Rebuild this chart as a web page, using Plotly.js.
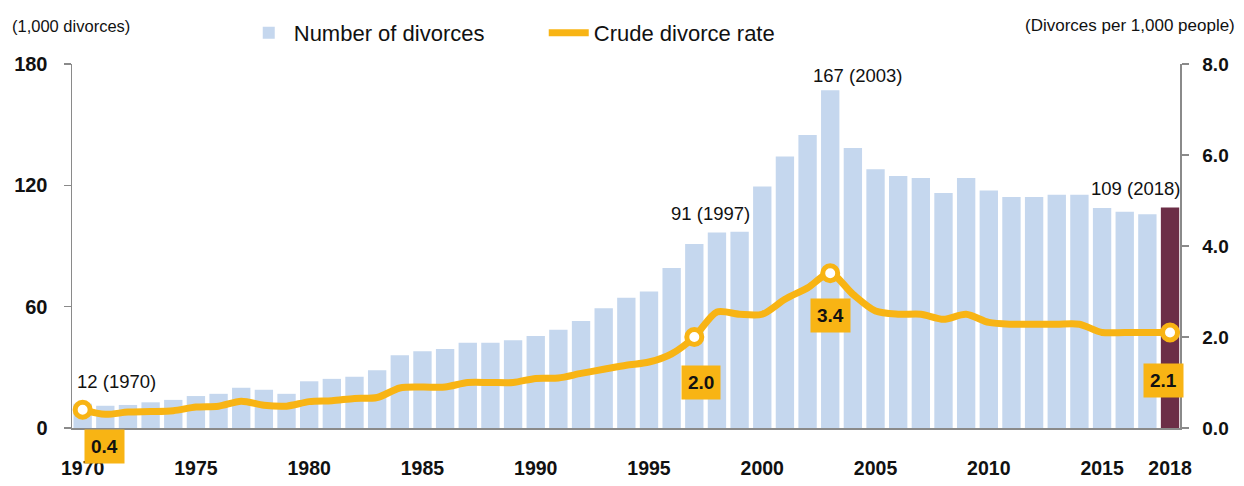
<!DOCTYPE html>
<html>
<head>
<meta charset="utf-8">
<script src="https://cdn.plot.ly/plotly-3.0.1.min.js"></script>
<style>
html,body{margin:0;padding:0;background:#fff;}
#chart{width:1244px;height:486px;}
</style>
</head>
<body>
<div id="chart"></div>
<script>
// Years (categories)
const years = [1970,1971,1972,1973,1974,1975,1976,1977,1978,1979,
               1980,1981,1982,1983,1984,1985,1986,1987,1988,1989,
               1990,1991,1992,1993,1994,1995,1996,1997,1998,1999,
               2000,2001,2002,2003,2004,2005,2006,2007,2008,2009,
               2010,2011,2012,2013,2014,2015,2016,2017,2018];
// Number of divorces (1,000)
const divorces = [12,11,11.4,12.7,13.9,15.8,16.9,19.9,18.9,16.9,
                  23.1,24.3,25.3,28.5,36,38,39.1,42.1,42.1,43.4,
                  45.5,48.6,52.9,59.2,64.4,67.5,79.1,91,96.7,97,
                  119.4,134.3,144.9,167,138.5,128,124.6,123.6,116.2,123.6,
                  117.5,114.2,114.2,115.3,115.3,108.8,106.9,105.7,109];
// Crude divorce rate (per 1,000 people)
const rate = [0.4,0.3,0.35,0.36,0.38,0.46,0.48,0.59,0.5,0.48,
              0.58,0.6,0.65,0.67,0.88,0.9,0.9,1.0,1.0,1.0,
              1.09,1.1,1.2,1.29,1.38,1.45,1.63,2.0,2.55,2.5,
              2.5,2.83,3.08,3.4,2.94,2.57,2.5,2.5,2.39,2.5,
              2.32,2.28,2.28,2.28,2.28,2.1,2.1,2.1,2.1];
const xTickYears = [1970,1975,1980,1985,1990,1995,2000,2005,2010,2015,2018];
const leftTicks = [0,60,120,180];
const rightTicks = [0,2,4,6,8];
const highlightYears = [1970,1997,2003,2018];

const BAR = '#C5D7EE', BAR_LAST = '#6C2E47', ORANGE = '#F8B414', AXIS = '#8a8a8a';
const FONT = '"Liberation Sans", Arial, sans-serif';

const lastYear = years[years.length-1];
const barColors = years.map(y => y === lastYear ? BAR_LAST : BAR);
const hiIdx = highlightYears.map(y => years.indexOf(y));

const traces = [
  {type:'bar', name:'Number of divorces', x:years, y:divorces,
   marker:{color:barColors}, hoverinfo:'x+y'},
  {type:'scatter', mode:'lines', name:'Crude divorce rate', x:years, y:rate, yaxis:'y2',
   line:{color:ORANGE, width:7, shape:'spline', smoothing:0.8}},
  {type:'scatter', mode:'markers', showlegend:false, x:hiIdx.map(i=>years[i]), y:hiIdx.map(i=>rate[i]),
   yaxis:'y2', marker:{size:15, color:'#ffffff', line:{color:ORANGE, width:5}}, hoverinfo:'skip'}
];

// pixel offsets for bar labels and rate boxes
const barLabelShift = {1970:[-8,28,'left'],1997:[16,30,'center'],2003:[27,15,'center'],2018:[-35,19,'center']};
const rateBoxShift = {1970:[22,-37],1997:[7,-45],2003:[0,-42],2018:[-7,-48]};

const annotations = [];
hiIdx.forEach(i => {
  const yr = years[i];
  const b = barLabelShift[yr];
  const isFirst = (i === 0);
  annotations.push({x:yr, y:(isFirst ? rate[i] : divorces[i]), xref:'x', yref:(isFirst ? 'y2' : 'y'),
    text: Math.round(divorces[i]) + ' (' + yr + ')', showarrow:false,
    xanchor:b[2], yanchor:'middle', xshift:b[0], yshift:b[1],
    font:{family:FONT, size:18.5, color:'#111'}});
  const r = rateBoxShift[yr];
  annotations.push({x:yr, y:rate[i], xref:'x', yref:'y2',
    text:'<b>'+rate[i].toFixed(1)+'</b>', showarrow:false, xanchor:'center', yanchor:'middle',
    xshift:r[0], yshift:r[1], bgcolor:ORANGE, borderpad:6,
    font:{family:FONT, size:19, color:'#111'}});
});
annotations.push({xref:'paper', yref:'paper', x:-0.056, y:1.105, xanchor:'left', yanchor:'middle',
  text:'(1,000 divorces)', showarrow:false, font:{family:FONT, size:16.5, color:'#111'}});
annotations.push({xref:'paper', yref:'paper', x:1.051, y:1.105, xanchor:'right', yanchor:'middle',
  text:'(Divorces per 1,000 people)', showarrow:false, font:{family:FONT, size:17, color:'#111'}});

const layout = {
  width:1244, height:486,
  margin:{l:72, r:64, t:60, b:58},
  paper_bgcolor:'#fff', plot_bgcolor:'#fff',
  bargap:0.19,
  showlegend:true,
  legend:{orientation:'h', x:0.155, y:1.085, xanchor:'left', yanchor:'middle',
          font:{family:FONT, size:22, color:'#111'}, itemwidth:40, tracegroupgap:0,
          entrywidth:245, entrywidthmode:'pixels',
          bgcolor:'rgba(0,0,0,0)'},
  xaxis:{range:[1969.53, 2018.44], tickvals:xTickYears, ticks:'', showgrid:false, zeroline:false,
         showline:true, linecolor:AXIS, linewidth:2, ticklabelstandoff:22,
         tickfont:{family:FONT, size:19.5, color:'#111', weight:'bold'}},
  yaxis:{range:[0,180], tickvals:leftTicks, ticks:'outside', ticklen:7, tickcolor:AXIS, tickwidth:1.5,
         showline:true, linecolor:AXIS, linewidth:1.5, showgrid:false, zeroline:false, ticklabelstandoff:12,
         tickfont:{family:FONT, size:20, color:'#111', weight:'bold'}},
  yaxis2:{range:[0,8], tickvals:rightTicks, tickformat:'.1f', overlaying:'y', side:'right',
          ticks:'outside', ticklen:7, tickcolor:AXIS, tickwidth:1.5,
          showline:true, linecolor:AXIS, linewidth:1.5, showgrid:false, zeroline:false, ticklabelstandoff:10,
          tickfont:{family:FONT, size:19, color:'#111', weight:'bold'}},
  annotations:annotations
};

Plotly.newPlot('chart', traces, layout, {displayModeBar:false, staticPlot:true});
</script>
</body>
</html>
